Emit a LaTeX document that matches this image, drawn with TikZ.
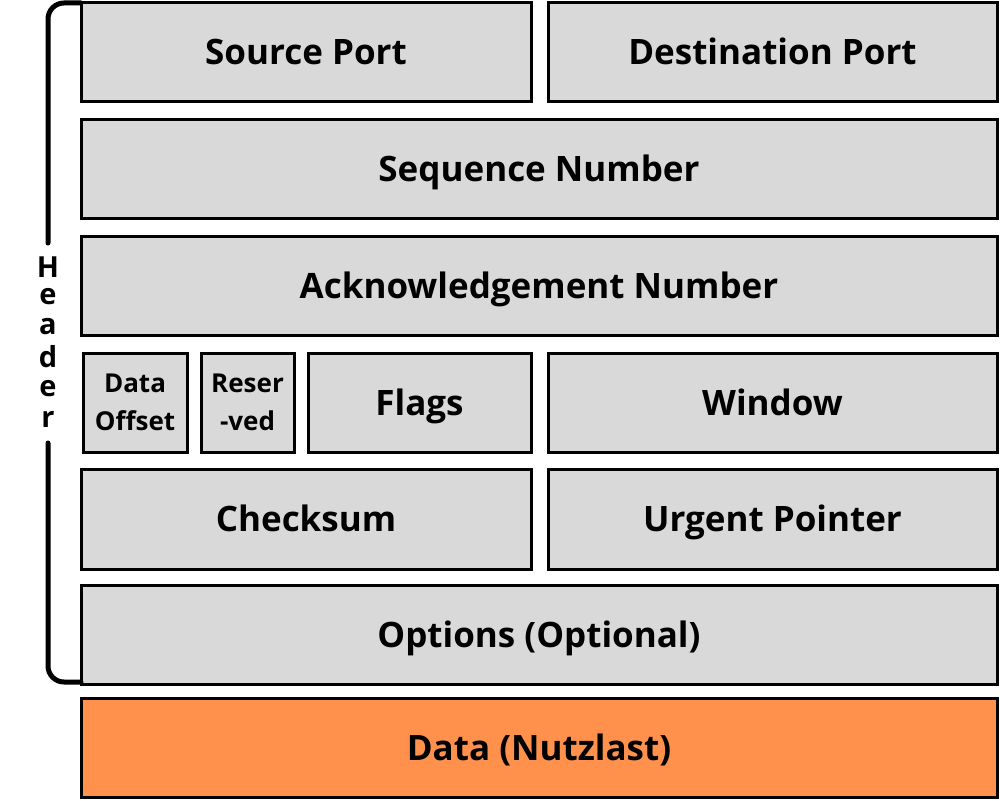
\documentclass[tikz,border=0pt]{standalone}
\usepackage{fontspec}
\setmainfont{Open Sans}
\definecolor{boxgray}{HTML}{D9D9D9}
\definecolor{dataorange}{HTML}{FF914D}
\tikzset{
  segbase/.style={draw=black, line width=3pt, fill=boxgray, inner sep=0pt, align=center},
  seg/.style={segbase, font=\bfseries\fontsize{35}{40}\selectfont, text height=25pt, text depth=0pt},
  smallseg/.style={segbase, font=\bfseries\fontsize{26}{38}\selectfont},
  datseg/.style={seg, fill=dataorange},
  brace/.style={draw=black, line width=5pt, line cap=round, rounded corners=16pt},
  hdr/.style={font=\bfseries\fontsize{29}{30}\selectfont, inner sep=0pt}
}
\begin{document}
\begin{tikzpicture}[x=1pt, y=-1pt]
\path[use as bounding box, fill=white] (0,0) rectangle (1000,800);
% row 1
\node[seg, minimum width=450pt, minimum height=98pt] (src) at (306,52) {Source Port};
\node[seg, minimum width=449pt, minimum height=98pt] (dst) at (772.5,52) {Destination Port};
% row 2
\node[seg, minimum width=916pt, minimum height=99pt] (seq) at (539,168.5) {Sequence Number};
% row 3
\node[seg, minimum width=916pt, minimum height=99pt] (ack) at (539,285.5) {Acknowledgement Number};
% row 4
\node[smallseg, minimum width=104pt, minimum height=99pt] (off) at (135,402.5) {Data\\Offset};
\node[smallseg, minimum width=93pt, minimum height=99pt] (res) at (247.5,402.5) {Reser\\-ved};
\node[seg, minimum width=223pt, minimum height=99pt] (flg) at (419.5,402.5) {Flags};
\node[seg, minimum width=449pt, minimum height=99pt] (win) at (772.5,402.5) {Window};
% row 5
\node[seg, minimum width=450pt, minimum height=100pt] (chk) at (306,519) {Checksum};
\node[seg, minimum width=449pt, minimum height=100pt] (urg) at (772.5,519) {Urgent Pointer};
% row 6
\node[seg, minimum width=916pt, minimum height=99pt] (opt) at (539,634.5) {Options (Optional)};
% data
\node[datseg, minimum width=916pt, minimum height=99pt] (dat) at (539,747.5) {Data (Nutzlast)};
% header bracket
\coordinate (btop) at (81,3);
\coordinate (bbot) at (81,682);
\draw[brace] (btop) -- (48,3) -- (48,243);
\draw[brace] (48,443) -- (48,682) -- (bbot);
\node[hdr] (h1) at (48,267) {H};
\node[hdr] (h2) at (48,297) {e};
\node[hdr] (h3) at (48,327) {a};
\node[hdr] (h4) at (48,357) {d};
\node[hdr] (h5) at (48,389) {e};
\node[hdr] (h6) at (48,419) {r};
\end{tikzpicture}
\end{document}
